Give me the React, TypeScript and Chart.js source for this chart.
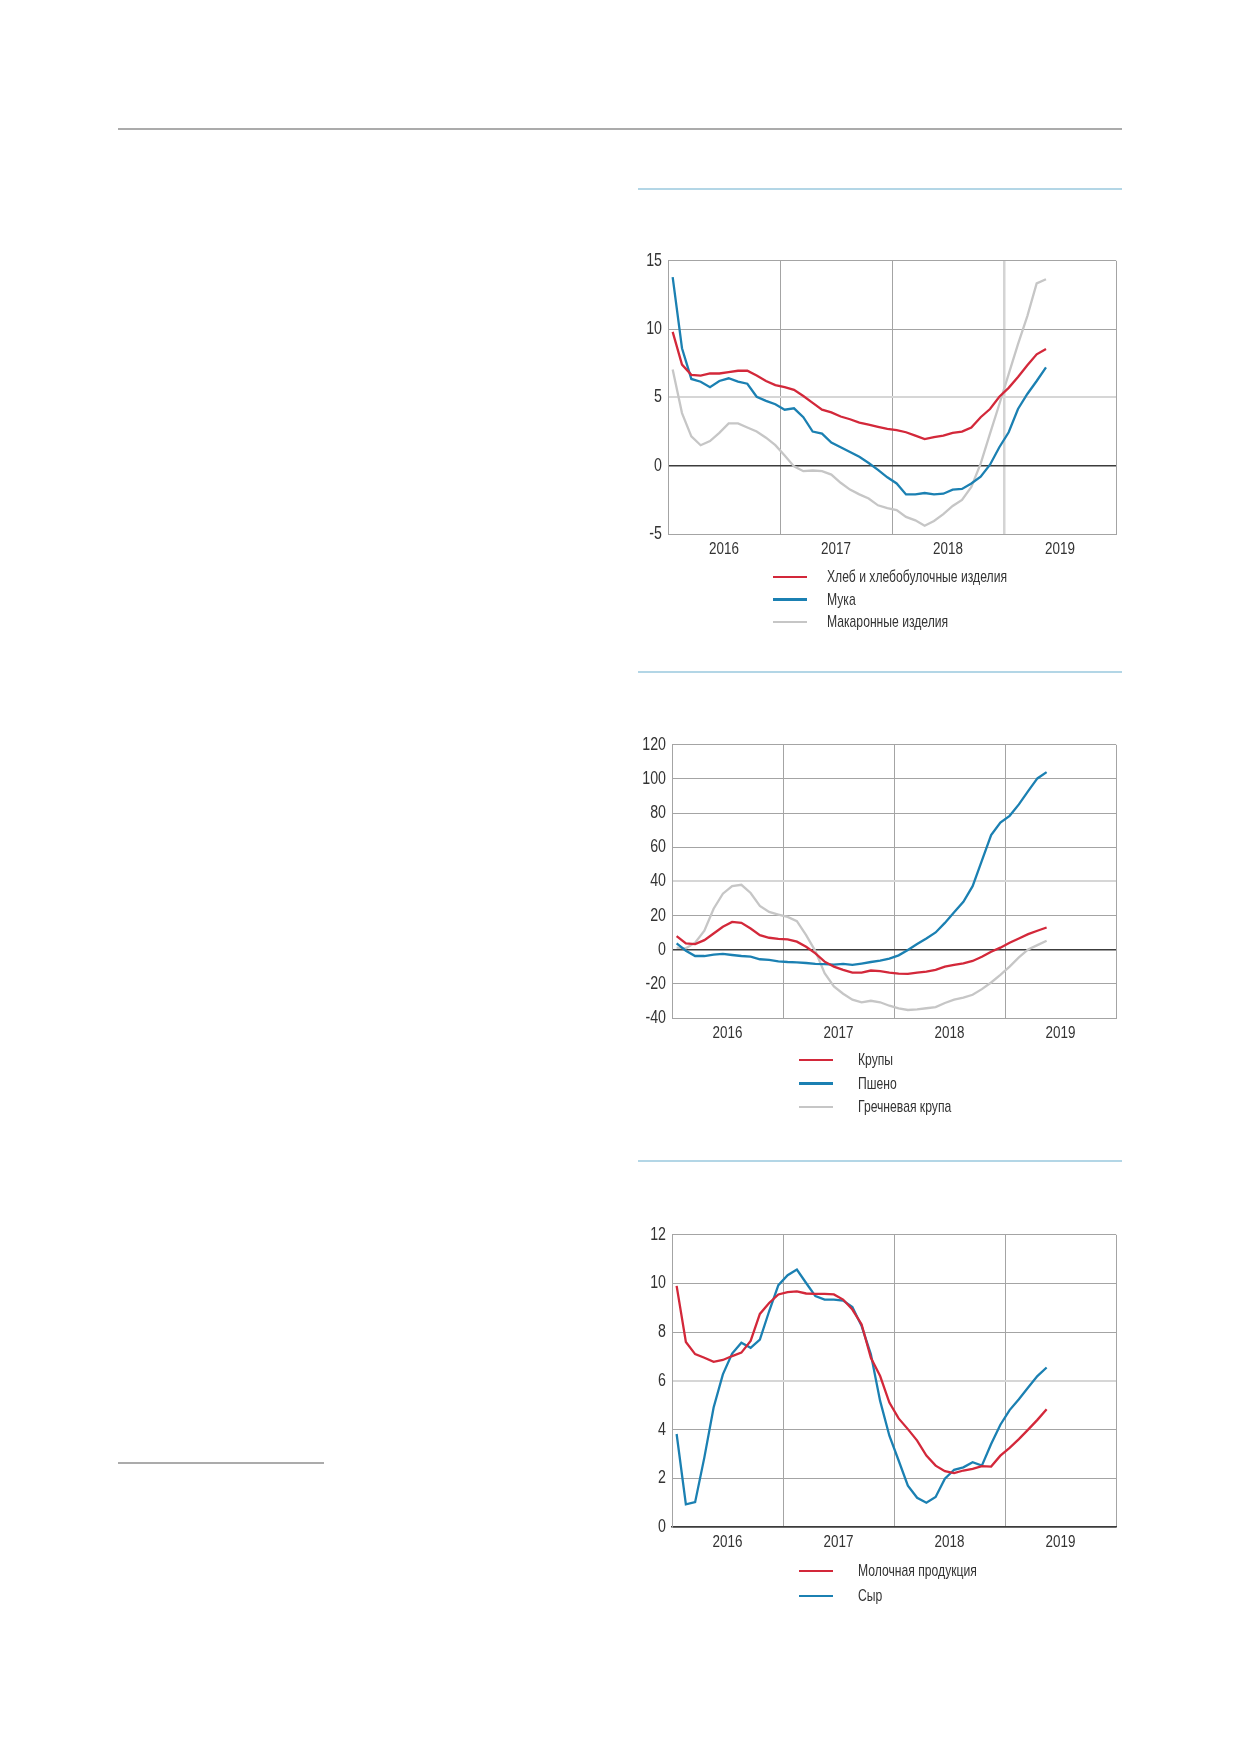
import React, { useEffect, useRef } from 'react';
import { Chart, registerables } from 'chart.js';

Chart.register(...registerables);

const yearLabels = ['2016', '2017', '2018', '2019'];

// Хлеб / мука / макароны, Jan 2016 – May 2019, monthly
const breadValues = [9.8, 7.4, 6.65, 6.6, 6.75, 6.75, 6.85, 6.95, 6.95, 6.6, 6.2, 5.9, 5.75, 5.55, 5.1, 4.6, 4.1, 3.9, 3.6, 3.4, 3.15, 3.0, 2.85, 2.7, 2.6, 2.45, 2.2, 1.95, 2.1, 2.2, 2.4, 2.5, 2.8, 3.55, 4.15, 5.05, 5.7, 6.5, 7.35, 8.15, 8.55];
const flourValues = [13.8, 8.6, 6.35, 6.15, 5.75, 6.2, 6.4, 6.15, 6.0, 5.05, 4.75, 4.5, 4.1, 4.2, 3.55, 2.5, 2.35, 1.7, 1.35, 1.0, 0.65, 0.2, -0.3, -0.85, -1.3, -2.1, -2.1, -2.0, -2.1, -2.05, -1.75, -1.7, -1.3, -0.8, 0.07, 1.35, 2.45, 4.15, 5.25, 6.2, 7.2];
const pastaValues = [7.05, 3.85, 2.15, 1.5, 1.8, 2.4, 3.1, 3.1, 2.8, 2.5, 2.05, 1.5, 0.75, -0.05, -0.4, -0.35, -0.4, -0.65, -1.25, -1.75, -2.1, -2.4, -2.9, -3.1, -3.25, -3.75, -4.0, -4.4, -4.05, -3.55, -2.95, -2.5, -1.55, 0.15, 2.35, 4.5, 6.7, 8.9, 10.95, 13.35, 13.65];

// Крупы / пшено / гречка
const groatsValues = [8, 3.7, 3.3, 5.6, 9.5, 13.4, 16.3, 15.7, 12.4, 8.5, 7.0, 6.4, 6.0, 4.7, 1.7, -2.1, -7.0, -9.9, -11.8, -13.4, -13.4, -12.2, -12.6, -13.4, -14, -14.2, -13.4, -12.8, -11.8, -9.9, -8.9, -8, -6.6, -4.1, -1.2, 1.2, 4.1, 6.6, 9.1, 11.1, 13];
const milletValues = [3.7, -0.6, -3.7, -3.7, -2.9, -2.5, -3.1, -3.7, -4.1, -5.6, -6.0, -6.8, -7.2, -7.4, -7.8, -8.3, -8.5, -8.7, -8.3, -8.9, -8.1, -7.2, -6.4, -5.2, -3.3, -0.2, 3.3, 6.6, 10.1, 15.7, 21.9, 28.1, 37.2, 52.2, 67.1, 74.5, 78.4, 85.1, 92.9, 100.3, 104];
const buckwheatValues = [1.2, 0.8, 4.1, 11.1, 24, 32.8, 37.2, 38, 33.2, 25.6, 22.1, 20.6, 19.2, 16.7, 8.5, -0.8, -13.8, -21.5, -25.8, -29.3, -30.8, -29.9, -30.8, -32.8, -34.3, -35.3, -34.9, -34.3, -33.6, -31.2, -29.3, -28.1, -26.4, -23.1, -19.2, -14.7, -9.9, -4.5, 0.2, 2.7, 5.2];

// Молочная продукция / сыр
const dairyValues = [9.9, 7.6, 7.1, 6.95, 6.78, 6.86, 7.02, 7.16, 7.64, 8.75, 9.2, 9.55, 9.65, 9.68, 9.59, 9.57, 9.57, 9.55, 9.34, 8.93, 8.32, 6.95, 6.2, 5.11, 4.46, 4.02, 3.55, 2.93, 2.52, 2.29, 2.21, 2.32, 2.39, 2.5, 2.48, 2.93, 3.25, 3.61, 4.0, 4.4, 4.84];
const cheeseValues = [3.82, 0.93, 1.02, 2.86, 4.91, 6.27, 7.12, 7.57, 7.36, 7.7, 8.86, 9.93, 10.34, 10.57, 10.02, 9.48, 9.34, 9.34, 9.3, 9.03, 8.25, 7.09, 5.18, 3.75, 2.73, 1.7, 1.2, 1.0, 1.23, 1.98, 2.35, 2.45, 2.66, 2.52, 3.41, 4.2, 4.8, 5.25, 5.73, 6.2, 6.55];

const RED = '#d3283a';
const BLUE = '#1b80b2';
const GRAY = '#c6c6c6';
const FONT = '"Liberation Sans", Arial, sans-serif';
const TEXT = '#333333';
const GRID = '#a4a4a4';
const NARROW = 0.79; // the original uses a condensed face
const LEGEND_NARROW = 0.715;

const CANVAS_LEFT = 600;
const CANVAS_WIDTH = 540;
const PLOT_RIGHT = 1116;
const PAD_TOP = 15;
const XAXIS_H = 35;

// squeeze tick labels horizontally around their anchor point
const condensePlugin = {
  id: 'condense',
  beforeDraw(chart: any) {
    const ctx = chart.ctx;
    if (ctx.__condensed) return;
    const orig = ctx.fillText.bind(ctx);
    ctx.fillText = (text: string, x: number, y: number) => {
      ctx.save();
      ctx.translate(x, y);
      ctx.scale(NARROW, 1);
      orig(text, 0, 0);
      ctx.restore();
    };
    ctx.__condensed = true;
  },
};

interface Series {
  label: string;
  color: string;
  values: number[];
}

interface PanelProps {
  plotTop: number;
  plotLeft: number;
  plotHeight: number;
  yMin: number;
  yMax: number;
  yStep: number;
  lightY?: number;
  lightX?: number;
  darkBase?: boolean;
  series: Series[];
  legendTop: number;
  legendRow: number;
  swatchLeft: number;
  textLeft: number;
}

const LinePanel: React.FC<PanelProps> = (p) => {
  const canvasRef = useRef<HTMLCanvasElement>(null);
  const height = PAD_TOP + p.plotHeight + XAXIS_H;

  useEffect(() => {
    if (!canvasRef.current) return;
    const chart = new Chart(canvasRef.current, {
      type: 'line',
      data: {
        datasets: p.series.map((s) => ({
          label: s.label,
          data: s.values.map((v, i) => ({ x: i + 0.5, y: v })),
          borderColor: s.color,
          borderWidth: 2.3,
          pointRadius: 0,
          tension: 0,
          fill: false,
        })),
      },
      options: {
        responsive: false,
        animation: false,
        layout: { padding: { top: PAD_TOP, right: CANVAS_LEFT + CANVAS_WIDTH - PLOT_RIGHT, left: 0, bottom: 0 } },
        plugins: { legend: { display: false }, tooltip: { enabled: false } },
        scales: {
          x: {
            type: 'linear',
            min: 0,
            max: 48,
            afterBuildTicks: (scale: any) => {
              const t = [];
              for (let v = 0; v <= 48; v += 6) t.push({ value: v });
              scale.ticks = t;
            },
            afterFit: (scale: any) => {
              scale.height = XAXIS_H;
            },
            ticks: {
              autoSkip: false,
              maxRotation: 0,
              padding: 5,
              color: TEXT,
              font: { family: FONT, size: 17 },
              callback: (v: any) => (v % 12 === 6 ? yearLabels[(v - 6) / 12] : ''),
            },
            grid: {
              drawTicks: false,
              color: (ctx: any) => {
                const v = ctx.tick?.value;
                if (v % 12 !== 0) return 'rgba(0,0,0,0)';
                return v === p.lightX ? '#d4d4d4' : GRID;
              },
              lineWidth: (ctx: any) => (ctx.tick?.value === p.lightX ? 2.5 : 1),
            },
            border: { color: p.darkBase ? '#3c3c3c' : GRID, width: p.darkBase ? 1.5 : 1 },
          },
          y: {
            min: p.yMin,
            max: p.yMax,
            afterFit: (scale: any) => {
              scale.width = p.plotLeft - CANVAS_LEFT;
            },
            ticks: {
              stepSize: p.yStep,
              padding: 6,
              color: TEXT,
              font: { family: FONT, size: 18 },
            },
            grid: {
              drawTicks: false,
              color: (ctx: any) => {
                const v = ctx.tick?.value;
                if (v === 0) return '#3c3c3c';
                if (v === p.lightY) return '#d6d6d6';
                return GRID;
              },
              lineWidth: (ctx: any) => {
                const v = ctx.tick?.value;
                if (v === 0) return 1.5;
                if (v === p.lightY) return 2;
                return 1;
              },
            },
            border: { color: GRID, width: 1 },
          },
        },
      },
      plugins: [condensePlugin],
    });
    return () => chart.destroy();
  }, []);

  return (
    <>
      <canvas
        ref={canvasRef}
        width={CANVAS_WIDTH}
        height={height}
        style={{ position: 'absolute', left: CANVAS_LEFT, top: p.plotTop - PAD_TOP, width: CANVAS_WIDTH, height }}
      />
      {p.series.map((s, i) => (
        <div
          key={s.label}
          style={{ position: 'absolute', left: p.swatchLeft, top: p.legendTop + i * p.legendRow - 12, height: 24, display: 'flex', alignItems: 'center' }}
        >
          <div style={{ width: 34, height: 2.5, background: s.color }} />
          <span
            style={{
              marginLeft: p.textLeft - p.swatchLeft - 34,
              fontFamily: FONT,
              fontSize: 17,
              color: TEXT,
              whiteSpace: 'nowrap',
              display: 'inline-block',
              transform: `scaleX(${LEGEND_NARROW})`,
              transformOrigin: 'left center',
            }}
          >
            {s.label}
          </span>
        </div>
      ))}
    </>
  );
};

const rule = (left: number, top: number, width: number, color: string) => (
  <div style={{ position: 'absolute', left, top, width, height: 2, background: color }} />
);

export default function App() {
  return (
    <div style={{ position: 'absolute', left: 0, top: 0, width: 1239, height: 1752, background: '#fff', overflow: 'hidden' }}>
      {rule(118, 128, 1004, '#ababab')}
      {rule(638, 188, 484, '#b3d6e6')}
      {rule(638, 671, 484, '#b3d6e6')}
      {rule(638, 1160, 484, '#b3d6e6')}
      {rule(118, 1462, 206, '#ababab')}

      <LinePanel
        plotTop={259}
        plotLeft={668}
        plotHeight={275}
        yMin={-5}
        yMax={15}
        yStep={5}
        lightY={5}
        lightX={36}
        series={[
          { label: 'Хлеб и хлебобулочные изделия', color: RED, values: breadValues },
          { label: 'Мука', color: BLUE, values: flourValues },
          { label: 'Макаронные изделия', color: GRAY, values: pastaValues },
        ]}
        legendTop={577}
        legendRow={22.5}
        swatchLeft={773}
        textLeft={827}
      />

      <LinePanel
        plotTop={743}
        plotLeft={672}
        plotHeight={275}
        yMin={-40}
        yMax={120}
        yStep={20}
        lightY={40}
        series={[
          { label: 'Крупы', color: RED, values: groatsValues },
          { label: 'Пшено', color: BLUE, values: milletValues },
          { label: 'Гречневая крупа', color: GRAY, values: buckwheatValues },
        ]}
        legendTop={1060}
        legendRow={23.5}
        swatchLeft={799}
        textLeft={858}
      />

      <LinePanel
        plotTop={1233}
        plotLeft={672}
        plotHeight={294}
        yMin={0}
        yMax={12}
        yStep={2}
        lightY={6}
        darkBase
        series={[
          { label: 'Молочная продукция', color: RED, values: dairyValues },
          { label: 'Сыр', color: BLUE, values: cheeseValues },
        ]}
        legendTop={1571}
        legendRow={25}
        swatchLeft={799}
        textLeft={858}
      />
    </div>
  );
}
